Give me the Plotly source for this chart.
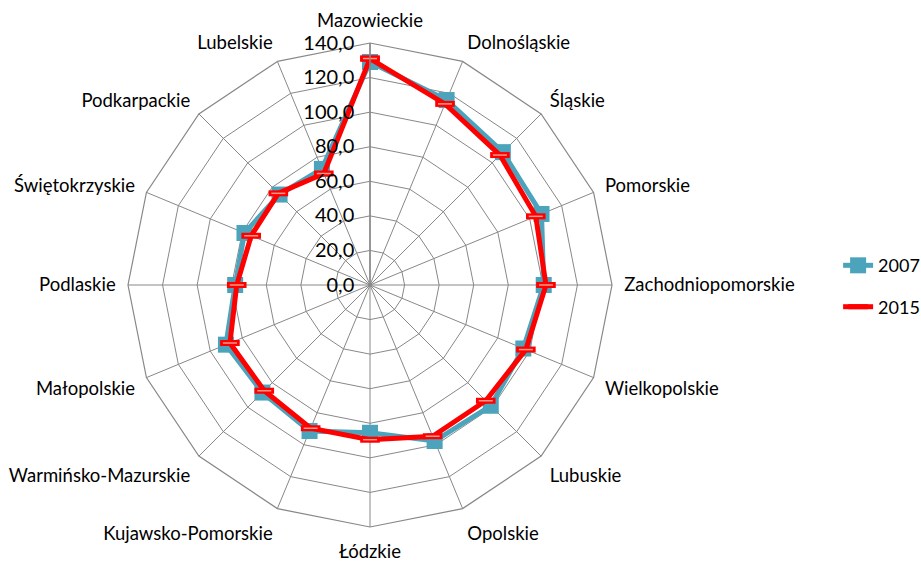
import plotly.graph_objects as go

categories = ["Mazowieckie", "Dolnośląskie", "Śląskie", "Pomorskie", "Zachodniopomorskie",
              "Wielkopolskie", "Lubuskie", "Opolskie", "Łódzkie", "Kujawsko-Pomorskie",
              "Warmińsko-Mazurskie", "Małopolskie", "Podlaskie", "Świętokrzyskie",
              "Podkarpackie", "Lubelskie"]
values_2007 = [129.0, 115.8, 108.7, 107.4, 100.5, 96.0, 98.8, 97.7, 85.5, 91.4, 88.0, 90.2, 78.0, 78.6, 74.0, 72.7]
values_2015 = [131.0, 113.4, 106.3, 103.8, 101.8, 97.6, 94.7, 94.7, 89.5, 89.7, 86.5, 87.7, 77.1, 74.4, 75.0, 69.8]
radial_ticks = [0, 20, 40, 60, 80, 100, 120, 140]
radial_ticktext = ["0,0", "20,0", "40,0", "60,0", "80,0", "100,0", "120,0", "140,0"]

def closed(a):
    return list(a) + [a[0]]

cats_c = closed(categories)
fig = go.Figure()
fig.add_trace(go.Scatterpolar(
    r=closed(values_2007), theta=cats_c, name="2007", mode="lines+markers",
    line=dict(color="#4BA3BC", width=5),
    marker=dict(symbol="square", size=16, color="#4BA3BC"),
    legendgroup="a"))
fig.add_trace(go.Scatterpolar(
    r=closed(values_2015), theta=cats_c, name="2015", mode="lines+markers",
    line=dict(color="#FF0000", width=5),
    marker=dict(symbol="line-ew", size=14, line=dict(width=6, color="#FF0000")),
    legendgroup="b"))
fig.add_trace(go.Scatterpolar(
    r=values_2015, theta=categories, mode="markers", showlegend=False, hoverinfo="skip",
    marker=dict(symbol="line-ew", size=10, line=dict(width=1.5, color="#FF9A8A")),
    legendgroup="b"))

font_family = "Lato, Liberation Sans, Arial, sans-serif"
fig.update_layout(
    width=921, height=561,
    margin=dict(l=0, r=0, t=0, b=0, autoexpand=False),
    paper_bgcolor="white", plot_bgcolor="white",
    font=dict(family=font_family, size=18.5, color="#000000"),
    polar=dict(
        domain=dict(x=[(370 - 242) / 921, (370 + 242) / 921],
                    y=[(276 - 242) / 561, (276 + 242) / 561]),
        bgcolor="white",
        gridshape="linear",
        radialaxis=dict(range=[0, 140], tickvals=radial_ticks, ticktext=radial_ticktext,
                        angle=90, side="counterclockwise", tickangle=90,
                        showline=True, linecolor="#888888", linewidth=1.5,
                        gridcolor="#888888", gridwidth=1.2,
                        ticks="outside", ticklen=8, tickcolor="rgba(0,0,0,0)",
                        tickfont=dict(size=20, color="#000000")),
        angularaxis=dict(direction="clockwise", rotation=90,
                         showline=True, linecolor="#888888", linewidth=1.2,
                         gridcolor="#888888", gridwidth=1.2,
                         ticks="outside", ticklen=8, tickcolor="rgba(0,0,0,0)",
                         tickfont=dict(size=18.5, color="#000000")),
    ),
    legend=dict(x=0.91, y=0.49, xanchor="left", yanchor="middle",
                font=dict(size=18, color="#000000"), tracegroupgap=15,
                traceorder="grouped"),
)
fig.write_html("out.html", config={"displayModeBar": False},
               post_script="document.body.style.margin='0';document.body.style.padding='0';")
